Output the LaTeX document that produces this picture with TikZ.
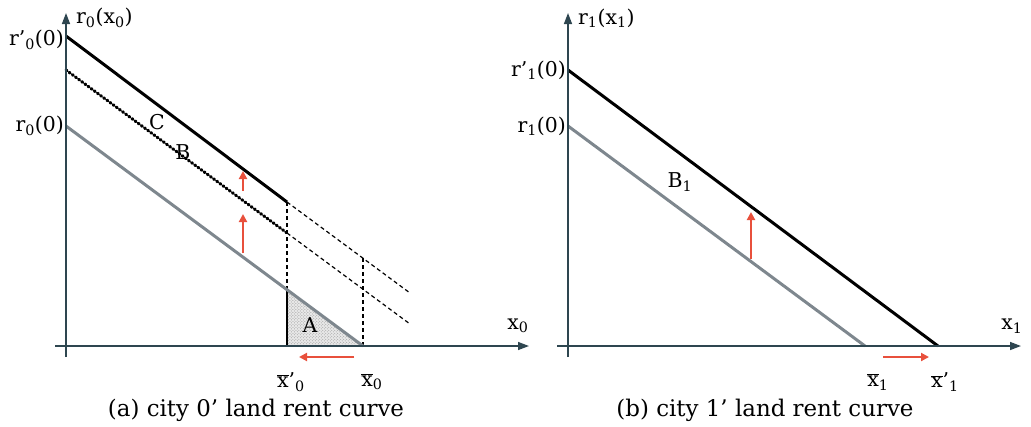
\documentclass[tikz,border=0pt]{standalone}
\usepackage{fontspec}
\setmainfont{DejaVu Serif}
\usetikzlibrary{arrows.meta,patterns}
\definecolor{axiscol}{HTML}{2E4650}
\definecolor{graycol}{HTML}{7E878E}
\definecolor{redcol}{HTML}{E8503C}
\newcommand\xb{$\overline{\mbox{x}}$}
\newcommand\sub[1]{\textsubscript{#1}}
\begin{document}
\begin{tikzpicture}[x=1bp,y=-1bp,
  axis/.style={draw=axiscol,line width=1.4bp,-{Triangle[length=11bp,width=8bp]}},
  newline/.style={draw=black,line width=3bp},
  oldline/.style={draw=graycol,line width=3bp},
  dotline/.style={draw=black,line width=3bp,dash pattern=on 1.3bp off 2.6bp,line cap=round},
  dashline/.style={draw=black,line width=1.2bp,dash pattern=on 4bp off 3bp},
  redarrow/.style={draw=redcol,fill=redcol,line width=2.4bp,-{Triangle[length=8bp,width=8bp]}},
  lab/.style={font=\fontsize{20.5}{24}\selectfont,inner sep=1bp},
  captext/.style={font=\fontsize{23}{27}\selectfont,inner sep=0bp}]
\useasboundingbox (0,0) rectangle (1031,426);
% ---------- left panel ----------
\coordinate (yb0) at (66,357);
\coordinate (yt0) at (66,13);
\coordinate (xl0) at (55,346);
\coordinate (xr0) at (529,346);
\coordinate (a1) at (66,36);
\coordinate (a2) at (287,202);
\coordinate (a3) at (410,293);
\coordinate (d1) at (66,70);
\coordinate (d2) at (287,233);
\coordinate (d3) at (410,324);
\coordinate (g1) at (66,126);
\coordinate (g2) at (287,290);
\coordinate (g3) at (363,346);
\coordinate (v1) at (287,346);
\coordinate (v2) at (363,258);
% shaded triangle A
\fill[gray!18] (g2) -- (v1) -- (g3) -- cycle;
\fill[pattern=crosshatch dots,pattern color=gray!80] (g2) -- (v1) -- (g3) -- cycle;
\draw[dashline] (a2) -- (a3);
\draw[dashline] (d2) -- (d3);
\draw[dashline] (a2) -- (g2);
\draw[dashline] (v2) -- (g3);
\draw[black,line width=1.4bp] (g2) -- (v1);
\draw[oldline] (g1) -- (g3);
\draw[dotline] (d1) -- (d2);
\draw[newline] (a1) -- (a2);
\draw[axis] (yb0) -- (yt0);
\draw[axis] (xl0) -- (xr0);
\coordinate (ra1) at (243,253);
\coordinate (ra2) at (243,214);
\coordinate (rb1) at (243,191);
\coordinate (rb2) at (243,171);
\draw[redarrow] (ra1) -- (ra2);
\draw[redarrow] (rb1) -- (rb2);
\coordinate (rh1) at (354,357);
\coordinate (rh2) at (299,357);
\draw[redarrow] (rh1) -- (rh2);
\node[lab,anchor=west] (ly0) at (75,18) {r\sub{0}(x\sub{0})};
\node[lab,anchor=east] (lrp0) at (65,40) {r’\sub{0}(0)};
\node[lab,anchor=east] (lr0) at (65,126) {r\sub{0}(0)};
\node[lab] (lx0) at (518,326) {x\sub{0}};
\node[lab] (lxbp0) at (291,382) {\xb’\sub{0}};
\node[lab] (lxb0) at (372,382) {\xb\sub{0}};
\node[lab] (lC) at (157,122) {C};
\node[lab] (lB) at (183,152) {B};
\node[lab] (lA) at (310,325) {A};
\node[captext] (capa) at (256,410) {(a) city 0’ land rent curve};
% ---------- right panel ----------
\coordinate (yb1) at (568,357);
\coordinate (yt1) at (568,13);
\coordinate (xl1) at (557,346);
\coordinate (xr1) at (1021,346);
\coordinate (b1) at (568,70);
\coordinate (b2) at (938,346);
\coordinate (h1) at (568,126);
\coordinate (h2) at (865,346);
\draw[oldline] (h1) -- (h2);
\draw[newline] (b1) -- (b2);
\draw[axis] (yb1) -- (yt1);
\draw[axis] (xl1) -- (xr1);
\coordinate (rc1) at (751,259);
\coordinate (rc2) at (751,212);
\draw[redarrow] (rc1) -- (rc2);
\coordinate (rd1) at (883,357);
\coordinate (rd2) at (929,357);
\draw[redarrow] (rd1) -- (rd2);
\node[lab,anchor=west] (ly1) at (577,18) {r\sub{1}(x\sub{1})};
\node[lab,anchor=east] (lrp1) at (567,70) {r’\sub{1}(0)};
\node[lab,anchor=east] (lr1) at (567,126) {r\sub{1}(0)};
\node[lab] (lx1) at (1012,326) {x\sub{1}};
\node[lab] (lxb1) at (878,382) {\xb\sub{1}};
\node[lab] (lxbp1) at (945,382) {\xb’\sub{1}};
\node[lab] (lB1) at (680,182) {B\sub{1}};
\node[captext] (capb) at (765,410) {(b) city 1’ land rent curve};
\end{tikzpicture}
\end{document}
